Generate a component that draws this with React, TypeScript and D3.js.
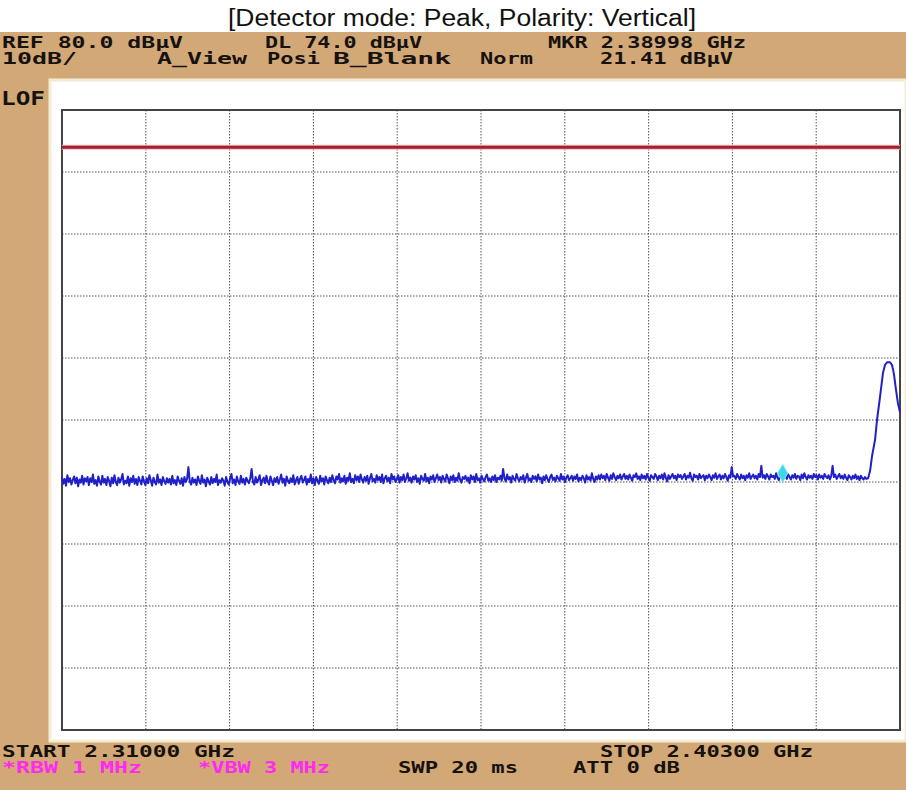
import React from 'react';
import * as d3 from 'd3';

// sweep settings
const startGHz = 2.31;
const stopGHz = 2.403;
const refLevel = 80;
const dbPerDiv = 10;
const divisions = 10;
const displayLine = 74;
const markerGHz = 2.38998;
const markerLevel = 21.41;

// noise floor, read left to right (dBµV), 2.31000 .. 2.39940 GHz
const noiseEndGHz = 2.3994;
const noiseLevels = [
  20.8, 19.7, 20.5, 19.4, 21.1, 20.0, 20.6, 19.6, 20.3, 20.9, 19.8, 20.7, 19.3, 20.4, 19.9, 21.0, 19.6, 20.6, 20.1, 20.8,
  19.5, 20.6, 20.0, 21.2, 19.7, 20.3, 19.4, 20.9, 20.1, 19.6, 21.0, 19.9, 20.5, 19.5, 20.8, 20.2, 19.3, 20.7, 19.8, 21.1,
  20.0, 19.5, 20.7, 19.9, 20.4, 21.3, 19.6, 20.2, 19.8, 20.9, 19.4, 20.6, 20.0, 21.0, 19.7, 20.5, 19.5, 20.8, 20.2, 19.6,
  20.9, 20.1, 19.5, 20.6, 19.8, 21.1, 20.3, 19.4, 20.7, 20.0, 19.6, 21.2, 19.9, 20.4, 19.5, 20.8, 20.1, 19.7, 20.6, 19.9,
  20.5, 19.6, 21.0, 19.8, 20.3, 19.5, 20.9, 20.2, 19.7, 20.6, 19.4, 20.8, 20.0, 20.5, 22.4, 20.1, 19.6, 20.7, 19.9, 20.4,
  19.5, 20.9, 20.2, 19.7, 21.1, 19.9, 20.4, 19.3, 20.7, 20.1, 19.6, 20.8, 19.8, 20.5, 20.0, 21.2, 19.5, 20.3, 19.9, 20.6,
  20.2, 19.4, 20.8, 20.0, 19.6, 20.6, 21.3, 19.8, 20.4, 19.5, 20.9, 20.1, 19.7, 21.0, 19.9, 20.5, 19.6, 20.7, 20.2, 19.8,
  20.6, 22.1, 20.0, 19.6, 20.8, 19.9, 20.4, 21.1, 19.5, 20.3, 20.7, 19.8, 21.0, 20.1, 19.6, 20.9, 20.2, 19.5, 20.6, 20.0,
  20.8, 19.7, 20.4, 21.2, 19.9, 20.5, 19.4, 20.9, 20.2, 19.8, 20.6, 20.0, 21.1, 19.6, 20.3, 20.8, 19.7, 20.5, 21.0, 19.9,
  20.3, 20.9, 19.6, 20.5, 20.0, 21.2, 19.8, 20.6, 19.5, 20.8, 20.2, 19.7, 21.0, 20.1, 20.6, 19.6, 20.9, 20.3, 19.8, 20.7,
  20.0, 21.1, 20.3, 19.8, 20.9, 20.4, 21.3, 19.9, 20.6, 20.1, 21.0, 19.7, 20.7, 20.2, 21.4, 20.0, 20.5, 19.8, 21.1, 20.3,
  20.9, 20.0, 21.2, 20.4, 19.9, 20.8, 20.2, 21.0, 19.7, 20.6, 21.3, 20.1, 20.5, 19.9, 21.1, 20.3, 20.8, 20.0, 21.2, 19.8,
  20.6, 21.0, 20.1, 20.7, 19.8, 21.3, 20.4, 20.9, 20.0, 20.5, 21.1, 19.9, 20.8, 20.3, 21.2, 20.0, 20.6, 21.4, 20.2, 20.7,
  19.9, 20.9, 20.4, 21.1, 20.0, 20.6, 19.7, 21.0, 20.5, 20.2, 21.3, 20.1, 20.7, 19.8, 20.9, 20.4, 21.1, 20.0, 20.6, 21.2,
  20.3, 20.8, 19.9, 21.0, 20.5, 20.1, 21.2, 20.6, 19.8, 20.9, 20.3, 21.1, 20.0, 20.7, 20.2, 21.4, 20.4, 19.9, 20.8, 20.5,
  21.0, 20.2, 20.7, 19.8, 21.1, 20.4, 20.9, 20.0, 21.3, 20.3, 20.6, 19.9, 21.0, 20.5, 20.1, 20.8, 21.2, 20.2, 20.6, 20.0,
  20.9, 20.3, 21.1, 20.0, 20.7, 20.4, 21.0, 20.2, 22.1, 20.6, 20.1, 21.2, 20.4, 20.8, 19.9, 21.0, 20.5, 20.2, 21.3, 20.6,
  20.1, 20.8, 20.4, 21.1, 19.9, 20.7, 21.3, 20.2, 20.6, 20.0, 21.0, 20.5, 20.9, 20.1, 21.2, 20.4, 20.7, 19.8, 20.9, 20.3,
  21.1, 20.5, 20.0, 20.8, 21.2, 20.3, 20.7, 20.1, 21.0, 20.6, 20.2, 21.3, 20.4, 20.9, 20.0, 20.7, 21.1, 20.3, 20.6, 21.0,
  20.2, 20.9, 20.5, 21.2, 20.1, 20.7, 20.3, 21.0, 20.6, 19.9, 21.1, 20.4, 20.8, 20.2, 21.4, 20.5, 20.0, 20.9, 20.4, 21.1,
  20.4, 21.2, 20.6, 21.0, 20.3, 21.3, 20.7, 20.2, 21.1, 20.5, 21.4, 20.8, 20.3, 21.0, 20.6, 21.2, 20.4, 20.9, 21.3, 20.5,
  21.0, 20.4, 21.2, 20.7, 20.2, 21.1, 20.8, 21.4, 20.5, 20.9, 20.3, 21.2, 20.6, 21.0, 20.4, 21.3, 20.7, 20.2, 21.1, 20.8,
  20.5, 21.3, 20.9, 20.3, 21.0, 20.6, 21.2, 20.4, 21.4, 20.7, 20.1, 21.1, 20.5, 20.9, 21.3, 20.6, 21.0, 20.3, 21.2, 20.8,
  21.1, 20.5, 20.9, 21.3, 20.4, 21.0, 20.7, 21.5, 20.6, 20.2, 21.2, 20.8, 21.0, 20.4, 21.3, 20.6, 20.9, 21.1, 20.3, 21.0,
  20.6, 21.2, 20.8, 20.3, 21.1, 20.7, 21.4, 20.5, 20.9, 21.2, 20.4, 21.0, 20.6, 21.3, 20.8, 20.2, 21.1, 20.7, 22.4, 20.9,
  21.0, 20.5, 21.3, 20.8, 20.4, 21.2, 20.6, 21.0, 20.3, 21.1, 20.7, 21.4, 20.5, 20.9, 21.2, 20.6, 21.0, 20.4, 21.3, 20.8,
  22.6, 20.7, 21.1, 20.5, 21.3, 20.9, 20.4, 21.2, 20.8, 21.0, 20.5, 21.4, 20.7, 20.3, 21.1, 20.9, 21.3, 20.6, 21.0, 20.5,
  21.2, 20.8, 20.4, 21.1, 20.7, 21.3, 20.5, 21.0, 20.9, 20.3, 21.2, 20.6, 21.4, 20.8, 20.4, 21.1, 20.7, 21.0, 20.5, 21.3,
  20.8, 21.1, 20.4, 21.2, 20.7, 21.0, 20.5, 21.3, 20.9, 20.6, 21.1, 20.4, 21.0, 22.6, 20.8, 21.2, 20.5, 20.9, 21.3, 20.6,
  21.0, 20.5, 21.2, 20.7, 20.3, 21.1, 20.8, 20.4, 21.0, 20.6, 21.2, 20.5, 20.9, 20.3, 21.0, 20.6, 20.4, 20.8, 20.5, 20.6,
];

// carrier edge at the right end of the sweep
const peakGHz = [2.39946, 2.39968, 2.3999, 2.40023, 2.40045, 2.40078, 2.40111, 2.40134, 2.40156, 2.40189, 2.40211, 2.40233, 2.40256, 2.40278, 2.403];
const peakLevels = [20.6, 21.8, 24.2, 26.8, 30.0, 33.7, 37.6, 38.9, 39.3, 39.3, 38.9, 37.4, 34.8, 32.6, 31.3];

const title = '[Detector mode: Peak, Polarity: Vertical]';

// annotation texts of the analyser screen
const headerTop = ['REF 80.0 dBµV', 'DL 74.0 dBµV', 'MKR 2.38998 GHz'];
const headerBottom = ['10dB/', 'A_View', 'Posi', 'B_Blank', 'Norm', '21.41 dBµV'];
const footerTop = ['START 2.31000 GHz', 'STOP 2.40300 GHz'];
const footerBottom = ['*RBW 1 MHz', '*VBW 3 MHz', 'SWP 20 ms', 'ATT 0 dB'];
const footerBottomMagenta = [true, true, false, false];
const sideLabel = 'LOF';

// layout: [left, right] of each annotation, in pixels
const headerTopSpan = [[2, 183], [265, 422], [548, 746]];
const headerBottomSpan = [[2, 77], [157, 247], [267, 320], [333, 451], [480, 533], [600, 733]];
const footerTopSpan = [[2, 235], [600, 813]];
const footerBottomSpan = [[2, 142], [198, 330], [398, 518], [573, 680]];

const W = 906;
const H = 790;
const plot = { left: 62, right: 900, top: 110, bottom: 730 };
const tan = '#d3a877';
const ink = '#161210';
const magenta = '#ff2af0';
const mono = '"DejaVu Sans Mono", "Liberation Mono", monospace';

const ScreenText = ({ span, y, color, children }: any) => (
  <text
    x={span[0]}
    y={y}
    textLength={span[1] - span[0]}
    lengthAdjust="spacingAndGlyphs"
    fontFamily={mono}
    fontWeight="bold"
    fontSize={15.5}
    fill={color}
  >
    {children}
  </text>
);

export default function App() {
  const x = d3.scaleLinear().domain([startGHz, stopGHz]).range([plot.left, plot.right]);
  const y = d3
    .scaleLinear()
    .domain([refLevel - dbPerDiv * divisions, refLevel])
    .range([plot.bottom, plot.top]);

  const noiseStep = (noiseEndGHz - startGHz) / (noiseLevels.length - 1);
  const trace = [
    ...noiseLevels.map((v, i) => ({ f: startGHz + i * noiseStep, v })),
    ...peakGHz.map((f, i) => ({ f, v: peakLevels[i] })),
  ];

  const line = d3
    .line<{ f: number; v: number }>()
    .x(d => x(d.f))
    .y(d => y(d.v));

  const xGrid = d3.range(1, divisions).map(i => startGHz + ((stopGHz - startGHz) * i) / divisions);
  const yGrid = d3.range(1, divisions).map(i => refLevel - i * dbPerDiv);

  const diamond = d3.symbol().type(d3.symbolDiamond).size(90)();

  return (
    <svg
      width={W}
      height={H}
      style={{ position: 'absolute', left: 0, top: 0, display: 'block' }}
    >
      <rect x={0} y={0} width={W} height={H} fill="#fff" />
      <text
        x={228}
        y={26}
        textLength={468}
        lengthAdjust="spacingAndGlyphs"
        fontFamily='"Liberation Sans", Arial, sans-serif'
        fontSize={23}
        fill="#111"
      >
        {title}
      </text>

      <rect x={0} y={32} width={W} height={H - 32} fill={tan} />
      <rect x={50} y={80} width={W - 50} height={661} fill="#fff" stroke="#f4ecd2" strokeWidth={3} />

      {headerTop.map((t, i) => (
        <ScreenText key={t} span={headerTopSpan[i]} y={48} color={ink}>
          {t}
        </ScreenText>
      ))}
      {headerBottom.map((t, i) => (
        <ScreenText key={t} span={headerBottomSpan[i]} y={64} color={ink}>
          {t}
        </ScreenText>
      ))}
      <text
        x={1}
        y={105}
        textLength={44}
        lengthAdjust="spacingAndGlyphs"
        fontFamily={mono}
        fontWeight="bold"
        fontSize={19}
        fill={ink}
      >
        {sideLabel}
      </text>

      {footerTop.map((t, i) => (
        <ScreenText key={t} span={footerTopSpan[i]} y={757} color={ink}>
          {t}
        </ScreenText>
      ))}
      {footerBottom.map((t, i) => (
        <ScreenText key={t} span={footerBottomSpan[i]} y={773} color={footerBottomMagenta[i] ? magenta : ink}>
          {t}
        </ScreenText>
      ))}

      <g stroke="#555" strokeWidth={1} strokeDasharray="1.5,1.5">
        {xGrid.map(f => (
          <line key={'x' + f} x1={x(f)} x2={x(f)} y1={plot.top} y2={plot.bottom} />
        ))}
        {yGrid.map(v => (
          <line key={'y' + v} x1={plot.left} x2={plot.right} y1={y(v)} y2={y(v)} />
        ))}
      </g>

      <rect
        x={plot.left}
        y={plot.top}
        width={plot.right - plot.left}
        height={plot.bottom - plot.top}
        fill="none"
        stroke="#444"
        strokeWidth={2}
      />

      <line
        x1={plot.left}
        x2={plot.right}
        y1={y(displayLine)}
        y2={y(displayLine)}
        stroke="#f0b8bc"
        strokeWidth={5}
      />
      <line
        x1={plot.left}
        x2={plot.right}
        y1={y(displayLine)}
        y2={y(displayLine)}
        stroke="#a3202f"
        strokeWidth={3}
      />

      <path d={line(trace) || ''} fill="none" stroke="#2020c8" strokeWidth={2} strokeLinejoin="round" />

      <path
        d={diamond || ''}
        transform={`translate(${x(markerGHz)},${y(markerLevel)})`}
        fill="#3ed6ea"
        stroke="#7fe8f2"
        strokeWidth={1}
      />
    </svg>
  );
}
